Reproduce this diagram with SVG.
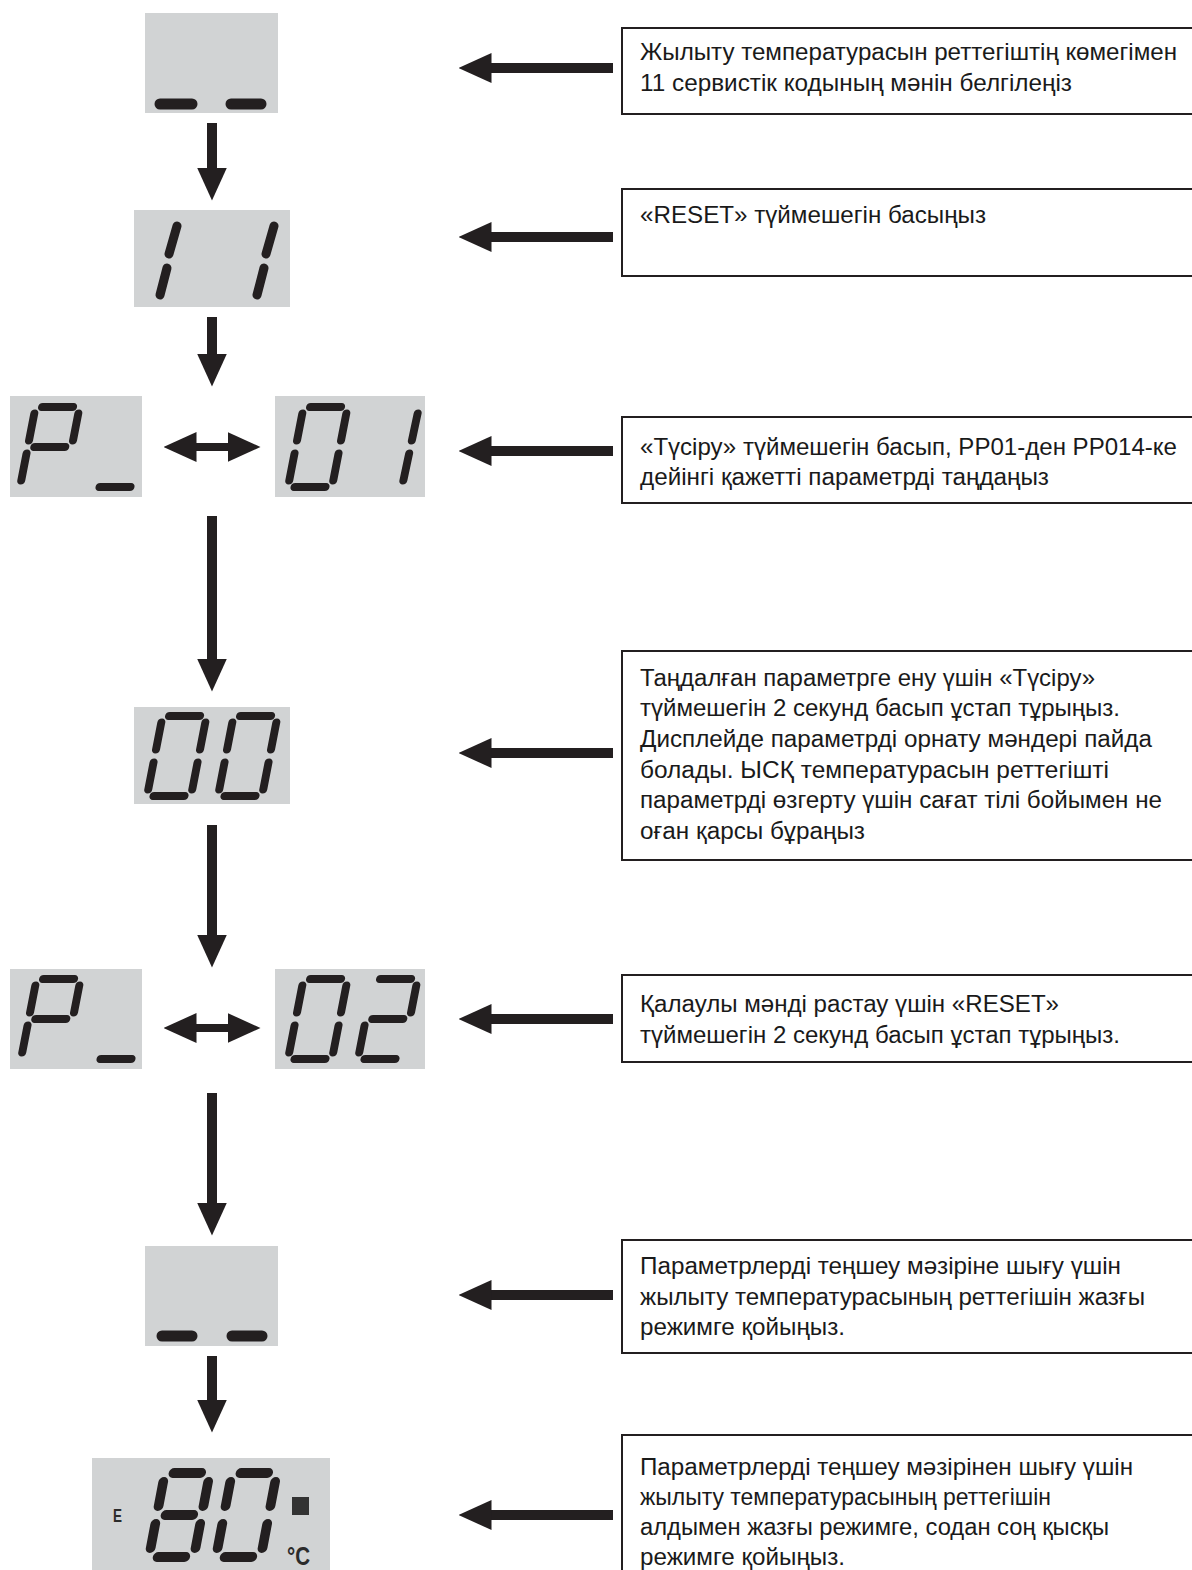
<svg xmlns="http://www.w3.org/2000/svg" width="1192" height="1570" viewBox="0 0 1192 1570">
<style>
.bg{fill:#ffffff}
.lcd{fill:#d1d3d4}
.seg{fill:none;stroke:#231f20;stroke-width:8;stroke-linecap:round;stroke-linejoin:round}
.segb{fill:none;stroke:#231f20;stroke-width:9.5;stroke-linecap:round}
.dash{stroke:#231f20;stroke-width:11;stroke-linecap:round}
.one{stroke:#231f20;stroke-width:9;stroke-linecap:round}
.box{fill:#ffffff;stroke:#231f20;stroke-width:2}
.txt{font-family:"Liberation Sans",Arial,sans-serif;font-size:23px;fill:#1a1a1a}
.ico{font-family:"Liberation Sans",Arial,sans-serif;font-weight:bold;fill:#2b2b2b}
.conn line{stroke:#231f20;stroke-width:10}
.conn line.dbl{stroke-width:8}
</style>
<defs>
<marker id="ah" markerUnits="userSpaceOnUse" viewBox="0 0 33 30" markerWidth="33" markerHeight="30" refX="0.5" refY="15" orient="auto-start-reverse"><path d="M0,0L33,15L0,30z" fill="#231f20"/></marker>
<path id="d0" d="M6.5,-80H37.5M44,-73.5V-46.5M44,-33.5V-6.5M6.5,0H37.5M0,-33.5V-6.5M0,-73.5V-46.5"/>
<path id="d1" d="M44,-73.5V-46.5M44,-33.5V-6.5"/>
<path id="d2" d="M6.5,-80H37.5M44,-73.5V-46.5M6.5,-40H37.5M0,-33.5V-6.5M6.5,0H37.5"/>
<path id="dP" d="M6.5,-80H37.5M44,-73.5V-46.5M0,-73.5V-46.5M6.5,-40H37.5M0,-33.5V-6.5"/>
<path id="dU" d="M6.5,0H37.5"/>
<path id="b8" d="M8.5,-80H35.5M44,-71.5V-48.5M44,-31.5V-8.5M8.5,0H35.5M0,-31.5V-8.5M0,-71.5V-48.5M8.5,-40H35.5"/>
<path id="b0" d="M8.5,-80H35.5M44,-71.5V-48.5M44,-31.5V-8.5M8.5,0H35.5M0,-31.5V-8.5M0,-71.5V-48.5"/>
</defs>
<rect class="bg" x="0" y="0" width="1192" height="1570"/>

<g id="conn" class="conn">
<line x1="212" y1="123" x2="212" y2="168" marker-end="url(#ah)"/>
<line x1="212" y1="317" x2="212" y2="354" marker-end="url(#ah)"/>
<line x1="212" y1="516" x2="212" y2="659" marker-end="url(#ah)"/>
<line x1="212" y1="825" x2="212" y2="935" marker-end="url(#ah)"/>
<line x1="212" y1="1093" x2="212" y2="1203" marker-end="url(#ah)"/>
<line x1="212" y1="1356" x2="212" y2="1400" marker-end="url(#ah)"/>
<line class="dbl" x1="196" y1="447" x2="228" y2="447" marker-start="url(#ah)" marker-end="url(#ah)"/>
<line class="dbl" x1="196" y1="1028" x2="228" y2="1028" marker-start="url(#ah)" marker-end="url(#ah)"/>
<line x1="613" y1="68" x2="491" y2="68" marker-end="url(#ah)"/>
<line x1="613" y1="237" x2="491" y2="237" marker-end="url(#ah)"/>
<line x1="613" y1="451" x2="491" y2="451" marker-end="url(#ah)"/>
<line x1="613" y1="753" x2="491" y2="753" marker-end="url(#ah)"/>
<line x1="613" y1="1019" x2="491" y2="1019" marker-end="url(#ah)"/>
<line x1="613" y1="1295" x2="491" y2="1295" marker-end="url(#ah)"/>
<line x1="613" y1="1515" x2="491" y2="1515" marker-end="url(#ah)"/>
</g>

<g id="lcd-blank-1">
<rect class="lcd" x="145" y="13" width="133" height="100"/>
<line class="dash" x1="160" y1="104" x2="192" y2="104"/>
<line class="dash" x1="231" y1="104" x2="261" y2="104"/>
</g>

<g id="lcd-11">
<rect class="lcd" x="134" y="210" width="156" height="97"/>
<line class="one" x1="177" y1="226" x2="169" y2="254"/>
<line class="one" x1="167" y1="268" x2="160" y2="295"/>
<line class="one" x1="274" y1="226" x2="266" y2="254"/>
<line class="one" x1="264" y1="268" x2="257" y2="295"/>
</g>

<g id="lcd-p-1">
<rect class="lcd" x="10" y="396" width="132" height="101"/>
<use class="seg" href="#dP" transform="translate(20,487) skewX(-11)"/>
<use class="seg" href="#dU" transform="translate(93,487) skewX(-11)"/>
</g>

<g id="lcd-01">
<rect class="lcd" x="275" y="396" width="150" height="101"/>
<use class="seg" href="#d0" transform="translate(288,487) skewX(-11)"/>
<use class="seg" href="#d1" transform="translate(358,487) skewX(-12)"/>
</g>

<g id="lcd-00">
<rect class="lcd" x="134" y="707" width="156" height="97"/>
<use class="seg" href="#d0" transform="translate(147,796) skewX(-11)"/>
<use class="seg" href="#d0" transform="translate(218,796) skewX(-11)"/>
</g>

<g id="lcd-p-2">
<rect class="lcd" x="10" y="969" width="132" height="100"/>
<use class="seg" href="#dP" transform="translate(21,1059) skewX(-11)"/>
<use class="seg" href="#dU" transform="translate(94,1059) skewX(-11)"/>
</g>

<g id="lcd-02">
<rect class="lcd" x="275" y="969" width="150" height="100"/>
<use class="seg" href="#d0" transform="translate(288,1059) skewX(-11)"/>
<use class="seg" href="#d2" transform="translate(358,1059) skewX(-11)"/>
</g>

<g id="lcd-blank-2">
<rect class="lcd" x="145" y="1246" width="133" height="100"/>
<line class="dash" x1="162" y1="1336" x2="192" y2="1336"/>
<line class="dash" x1="232" y1="1336" x2="262" y2="1336"/>
</g>

<g id="lcd-80">
<rect class="lcd" x="92" y="1458" width="238" height="112"/>
<use class="segb" href="#b8" transform="translate(149,1557) scale(1.02,1.05) skewX(-11)"/>
<use class="segb" href="#b0" transform="translate(216,1557) scale(1.02,1.05) skewX(-11)"/>
<text class="ico" x="113" y="1522" font-size="19" textLength="9" lengthAdjust="spacingAndGlyphs">E</text>
<rect x="292" y="1497" width="17" height="18" fill="#333333"/>
<text class="ico" x="287" y="1565" font-size="25" textLength="23" lengthAdjust="spacingAndGlyphs">°C</text>
</g>

<g id="box-1">
<rect class="box" x="622" y="28" width="580" height="86"/>
<text class="txt" x="640" y="60" textLength="537" lengthAdjust="spacingAndGlyphs">Жылыту температурасын реттегіштің көмегімен</text>
<text class="txt" x="640" y="91" textLength="432" lengthAdjust="spacingAndGlyphs">11 сервистік кодының мәнін белгілеңіз</text>
</g>

<g id="box-2">
<rect class="box" x="622" y="189" width="580" height="87"/>
<text class="txt" x="640" y="223" textLength="346" lengthAdjust="spacingAndGlyphs">«RESET» түймешегін басыңыз</text>
</g>

<g id="box-3">
<rect class="box" x="622" y="417" width="580" height="86"/>
<text class="txt" x="640" y="455" textLength="537" lengthAdjust="spacingAndGlyphs">«Түсіру» түймешегін басып, PP01-ден PP014-ке</text>
<text class="txt" x="640" y="485" textLength="409" lengthAdjust="spacingAndGlyphs">дейінгі қажетті параметрді таңдаңыз</text>
</g>

<g id="box-4">
<rect class="box" x="622" y="651" width="580" height="209"/>
<text class="txt" x="640" y="686" textLength="455" lengthAdjust="spacingAndGlyphs">Таңдалған параметрге ену үшін «Түсіру»</text>
<text class="txt" x="640" y="716" textLength="480" lengthAdjust="spacingAndGlyphs">түймешегін 2 секунд басып ұстап тұрыңыз.</text>
<text class="txt" x="640" y="747" textLength="512" lengthAdjust="spacingAndGlyphs">Дисплейде параметрді орнату мәндері пайда</text>
<text class="txt" x="640" y="778" textLength="469" lengthAdjust="spacingAndGlyphs">болады. ЫСҚ температурасын реттегішті</text>
<text class="txt" x="640" y="808" textLength="522" lengthAdjust="spacingAndGlyphs">параметрді өзгерту үшін сағат тілі бойымен не</text>
<text class="txt" x="640" y="839" textLength="225" lengthAdjust="spacingAndGlyphs">оған қарсы бұраңыз</text>
</g>

<g id="box-5">
<rect class="box" x="622" y="975" width="580" height="87"/>
<text class="txt" x="640" y="1012" textLength="419" lengthAdjust="spacingAndGlyphs">Қалаулы мәнді растау үшін «RESET»</text>
<text class="txt" x="640" y="1043" textLength="480" lengthAdjust="spacingAndGlyphs">түймешегін 2 секунд басып ұстап тұрыңыз.</text>
</g>

<g id="box-6">
<rect class="box" x="622" y="1240" width="580" height="113"/>
<text class="txt" x="640" y="1274" textLength="481" lengthAdjust="spacingAndGlyphs">Параметрлерді теңшеу мәзіріне шығу үшін</text>
<text class="txt" x="640" y="1305" textLength="505" lengthAdjust="spacingAndGlyphs">жылыту температурасының реттегішін жазғы</text>
<text class="txt" x="640" y="1335" textLength="205" lengthAdjust="spacingAndGlyphs">режимге қойыңыз.</text>
</g>

<g id="box-7">
<rect class="box" x="622" y="1435" width="580" height="150"/>
<text class="txt" x="640" y="1475" textLength="493" lengthAdjust="spacingAndGlyphs">Параметрлерді теңшеу мәзірінен шығу үшін</text>
<text class="txt" x="640" y="1505" textLength="411" lengthAdjust="spacingAndGlyphs">жылыту температурасының реттегішін</text>
<text class="txt" x="640" y="1535" textLength="469" lengthAdjust="spacingAndGlyphs">алдымен жазғы режимге, содан соң қысқы</text>
<text class="txt" x="640" y="1565" textLength="205" lengthAdjust="spacingAndGlyphs">режимге қойыңыз.</text>
</g>
</svg>
